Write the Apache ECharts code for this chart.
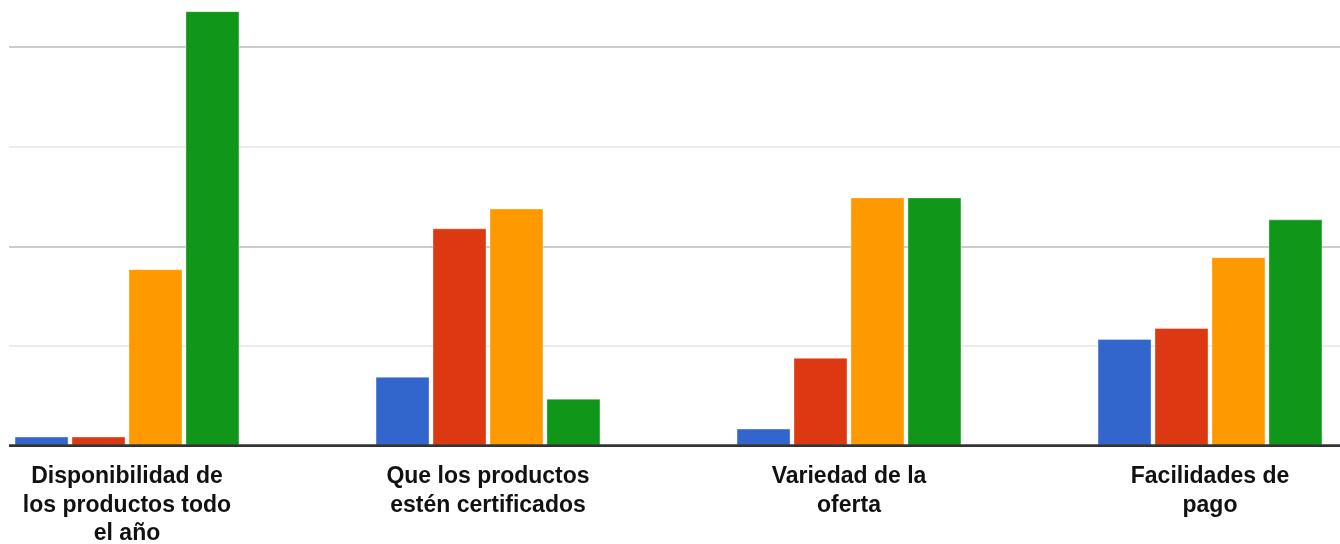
<!DOCTYPE html>
<html>
<head>
<meta charset="utf-8">
<script src="https://cdn.jsdelivr.net/npm/echarts@6/dist/echarts.min.js"></script>
<style>
html,body{margin:0;padding:0;background:#fff;}
#chart{width:1340px;height:544px;}
</style>
</head>
<body>
<div id="chart"></div>
<script>
const categories = [
  'Disponibilidad de\nlos productos todo\nel año',
  'Que los productos\nestén certificados',
  'Variedad de la\noferta',
  'Facilidades de\npago'
];
const seriesNames = ['Serie 1', 'Serie 2', 'Serie 3', 'Serie 4'];
const serie1 = [0.9, 6.9, 1.7, 10.7];
const serie2 = [0.9, 21.8, 8.8, 11.8];
const serie3 = [17.7, 23.8, 24.9, 18.9];
const serie4 = [43.6, 4.7, 24.9, 22.7];
const colors = ['#3366cc', '#dc3912', '#ff9900', '#109618'];

const allSeries = [serie1, serie2, serie3, serie4];
const chart = echarts.init(document.getElementById('chart'), null, {renderer: 'canvas'});
const font = '"Liberation Sans", Arial, Helvetica, sans-serif';

chart.setOption({
  animation: false,
  backgroundColor: '#ffffff',
  grid: [
    {left: 9, right: 0, top: 47, bottom: 98.5, containLabel: false, outerBoundsMode: 'none'},
    {left: -53.5, width: 1444, top: 47, bottom: 98.5, containLabel: false, outerBoundsMode: 'none'}
  ],
  xAxis: [
    {
      gridIndex: 0, type: 'value', min: 0, max: 1, show: true,
      axisLine: {show: false}, axisTick: {show: false}, axisLabel: {show: false},
      splitLine: {show: false}
    },
    {
      gridIndex: 1, type: 'category', data: categories,
      axisLine: {show: false}, axisTick: {show: false},
      splitLine: {show: false},
      axisLabel: {
        interval: 0, margin: 17,
        fontFamily: font, fontSize: 23, fontWeight: 'bold', color: '#111',
        lineHeight: 28.5, align: 'center'
      }
    }
  ],
  yAxis: [
    {
      gridIndex: 0, type: 'value', min: 0, max: 40, interval: 10,
      axisLine: {show: false}, axisTick: {show: false}, axisLabel: {show: false},
      splitLine: {show: true, lineStyle: {color: ['#333333', '#ececec', '#cccccc', '#ececec', '#cccccc'], width: 2}}
    },
    {
      gridIndex: 1, type: 'value', min: 0, max: 40, interval: 10,
      axisLine: {show: false}, axisTick: {show: false}, axisLabel: {show: false},
      splitLine: {show: false}
    }
  ],
  series: allSeries.map((vals, i) => ({
    name: seriesNames[i],
    type: 'bar',
    xAxisIndex: 1, yAxisIndex: 1,
    data: vals,
    barWidth: 54,
    barGap: '5.5%',
    clip: false,
    z: 3,
    itemStyle: {color: colors[i], borderColor: 'rgba(255,255,255,0.35)', borderWidth: 1}
  })).concat([{
    type: 'line', xAxisIndex: 0, yAxisIndex: 0,
    data: [[0, 0], [1, 0]], symbol: 'none', silent: true, z: 5,
    lineStyle: {color: '#333333', width: 2.5}
  }])
});
</script>
</body>
</html>
